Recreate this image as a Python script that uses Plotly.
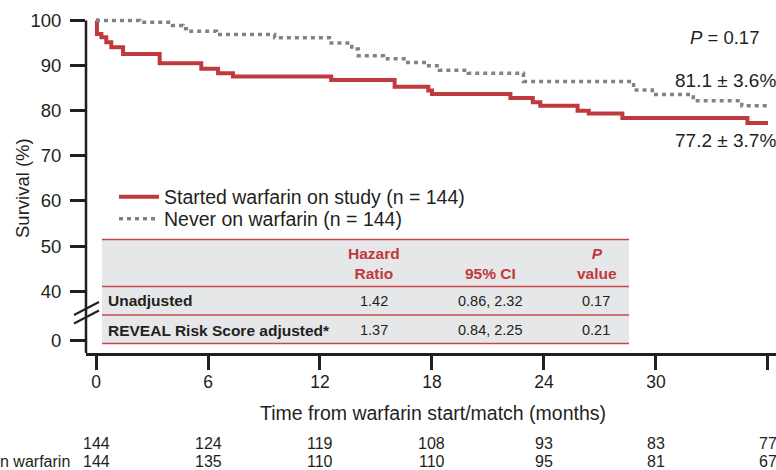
import plotly.graph_objects as go

# ---------------- data ----------------
red_t = [0, 0.05, 0.29, 0.55, 0.82, 1.45, 3.41, 5.64, 6.54, 7.34, 12.6, 16.0, 17.8, 18.0,
         22.2, 23.4, 23.8, 25.8, 26.4, 28.2, 34.9, 36.0]
red_s = [100, 97.0, 96.3, 95.2, 94.1, 92.6, 90.5, 89.3, 88.3, 87.6, 86.8, 85.3, 84.5, 83.7,
         82.8, 81.9, 81.1, 80.0, 79.4, 78.4, 77.3, 77.3]

gray_t = [0, 2.34, 4.1, 4.66, 4.84, 6.45, 9.57, 12.5, 13.7, 14.05, 15.4, 16.5, 17.7, 18.4,
          19.95, 22.9, 28.8, 29.8, 32.0, 34.6, 36.0]
gray_s = [100, 99.6, 98.9, 98.2, 97.6, 96.9, 96.2, 95.0, 93.7, 92.2, 91.5, 90.7, 90.0, 89.0,
          88.3, 86.5, 84.6, 83.6, 82.2, 81.1, 81.1]

x_ticks = [0, 6, 12, 18, 24, 30, 36]
y_tick_labels = ["0", "40", "50", "60", "70", "80", "90", "100"]
y_tick_values = [0, 40, 50, 60, 70, 80, 90, 100]

risk_started = [144, 124, 119, 108, 93, 83, 77]
risk_never = [144, 135, 110, 110, 95, 81, 67]

series_names = ["Started warfarin on study (n = 144)", "Never on warfarin (n = 144)"]

table_header = ["Hazard<br>Ratio", "95% CI", "<i>P</i><br>value"]
table_rows = ["Unadjusted", "REVEAL Risk Score adjusted*"]
table_hr = ["1.42", "1.37"]
table_ci = ["0.86, 2.32", "0.84, 2.25"]
table_p = ["0.17", "0.21"]

# ---------------- layout helpers ----------------
W, H = 776, 470
ML, MR, MT, MB = 86, 0, 16, 117
YMIN, YMAX = 26.3, 101.0
BREAK_POS = 29.1  # display position of the "0" tick below the axis break
XMIN, XMAX = -0.536, 36.43

PW = W - ML - MR
PH = H - MT - MB


def px_x(px):
    return (px - ML) / PW


def px_y(py):
    return (H - MB - py) / PH


def disp(v):
    return BREAK_POS if v == 0 else v


RED = "#c0393d"
GRAY = "#808285"
INK = "#231f20"
FONT = "Liberation Sans, Arial, sans-serif"

fig = go.Figure()
fig.add_trace(go.Scatter(x=red_t, y=red_s, mode="lines", line=dict(color=RED, width=4, shape="hv"),
                         name=series_names[0], legend="legend"))
fig.add_trace(go.Scatter(x=gray_t, y=gray_s, mode="lines",
                         line=dict(color=GRAY, width=3.5, shape="hv", dash="4px,4px"),
                         name=series_names[1], legend="legend2"))

shapes = []
# y axis line (from bottom to 100)
shapes.append(dict(type="line", xref="paper", yref="y", x0=0, x1=0, y0=YMIN, y1=100,
                   line=dict(color=INK, width=2.5)))
# axis break marks
for dy in (0, 8.5):
    shapes.append(dict(type="line", xref="paper", yref="paper",
                       x0=px_x(74), y0=px_y(315 + dy), x1=px_x(99), y1=px_y(302 + dy),
                       line=dict(color=INK, width=2)))
# table background and rules
shapes.append(dict(type="rect", xref="paper", yref="paper", x0=px_x(102), x1=px_x(629),
                   y0=px_y(344), y1=px_y(239), fillcolor="#e6e7e8", line=dict(width=0), layer="below"))
for py in (239.5, 286.5, 315, 343.5):
    shapes.append(dict(type="line", xref="paper", yref="paper", x0=px_x(102), x1=px_x(629),
                       y0=px_y(py), y1=px_y(py), line=dict(color="#c8464a", width=1.6)))

ann = []
# P value and survival estimates
ann.append(dict(text="<i>P</i> = 0.17", xref="paper", yref="paper", x=px_x(761), y=px_y(37),
                xanchor="right", yanchor="middle", showarrow=False, font=dict(size=18.5, color=INK, family=FONT)))
ann.append(dict(text="81.1 ± 3.6%", xref="paper", yref="paper", x=px_x(778), y=px_y(80),
                xanchor="right", yanchor="middle", showarrow=False, font=dict(size=19, color=INK, family=FONT)))
ann.append(dict(text="77.2 ± 3.7%", xref="paper", yref="paper", x=px_x(778), y=px_y(140),
                xanchor="right", yanchor="middle", showarrow=False, font=dict(size=19, color=INK, family=FONT)))

# table header
hdr_x = [374, 490, 597]
for txt, cx in zip(table_header, hdr_x):
    ann.append(dict(text="<b>" + txt + "</b>", xref="paper", yref="paper", x=px_x(cx), y=px_y(284),
                    xanchor="center", yanchor="bottom", showarrow=False,
                    font=dict(size=15.5, color=RED, family=FONT)))
row_y = [300.5, 330]
for i, ry in enumerate(row_y):
    ann.append(dict(text="<b>" + table_rows[i] + "</b>", xref="paper", yref="paper", x=px_x(106), y=px_y(ry),
                    xanchor="left", yanchor="middle", showarrow=False,
                    font=dict(size=15.5, color=INK, family=FONT)))
    for txt, cx in zip([table_hr[i], table_ci[i], table_p[i]], [374, 490, 596]):
        ann.append(dict(text=txt, xref="paper", yref="paper", x=px_x(cx), y=px_y(ry),
                        xanchor="center", yanchor="middle", showarrow=False,
                        font=dict(size=14.5, color=INK, family=FONT)))

# y axis title
ann.append(dict(text="Survival (%)", xref="paper", yref="paper", x=px_x(22), y=px_y(188),
                xanchor="center", yanchor="middle", textangle=-90, showarrow=False,
                font=dict(size=18.5, color=INK, family=FONT)))
# x axis title
ann.append(dict(text="Time from warfarin start/match (months)", xref="paper", yref="paper",
                x=px_x(433), y=px_y(413), xanchor="center", yanchor="middle", showarrow=False,
                font=dict(size=19.5, color=INK, family=FONT)))
# numbers at risk
for t, a, b in zip(x_ticks, risk_started, risk_never):
    ann.append(dict(text=str(a), xref="x", yref="paper", x=t, y=px_y(443), xanchor="center",
                    yanchor="middle", showarrow=False, font=dict(size=16, color=INK, family=FONT)))
    ann.append(dict(text=str(b), xref="x", yref="paper", x=t, y=px_y(461.5), xanchor="center",
                    yanchor="middle", showarrow=False, font=dict(size=16, color=INK, family=FONT)))
ann.append(dict(text="Never on warfarin", xref="paper", yref="paper", x=px_x(72), y=px_y(461.5),
                xanchor="right", yanchor="middle", showarrow=False, font=dict(size=16, color=INK, family=FONT)))

legend_common = dict(xanchor="left", yanchor="middle", bgcolor="rgba(0,0,0,0)",
                     font=dict(size=19.5, color=INK, family=FONT), itemwidth=40)

fig.update_layout(
    width=W, height=H,
    margin=dict(l=ML, r=MR, t=MT, b=MB, pad=0),
    paper_bgcolor="white", plot_bgcolor="white",
    font=dict(family=FONT, color=INK, size=18),
    showlegend=True,
    legend=dict(x=px_x(114), y=px_y(197), **legend_common),
    legend2=dict(x=px_x(114), y=px_y(219), **legend_common),
    shapes=shapes, annotations=ann,
    xaxis=dict(range=[XMIN, XMAX], tickvals=x_ticks, ticktext=[str(v) for v in x_ticks],
               showgrid=False, zeroline=False, showline=True, linecolor=INK, linewidth=2.5,
               ticks="outside", ticklen=14, tickwidth=2.5, tickcolor=INK, ticklabelstandoff=-3,
               tickfont=dict(size=17.5, color=INK, family=FONT)),
    yaxis=dict(range=[YMIN, YMAX], tickvals=[disp(v) for v in y_tick_values], ticktext=y_tick_labels,
               showgrid=False, zeroline=False, showline=False,
               ticks="outside", ticklen=15, tickwidth=2.5, tickcolor=INK, ticklabelstandoff=5,
               tickfont=dict(size=18.5, color=INK, family=FONT)),
)

fig.write_html("out.html", config={"displayModeBar": False},
               post_script="document.body.style.margin='0';document.body.style.overflow='hidden';")
